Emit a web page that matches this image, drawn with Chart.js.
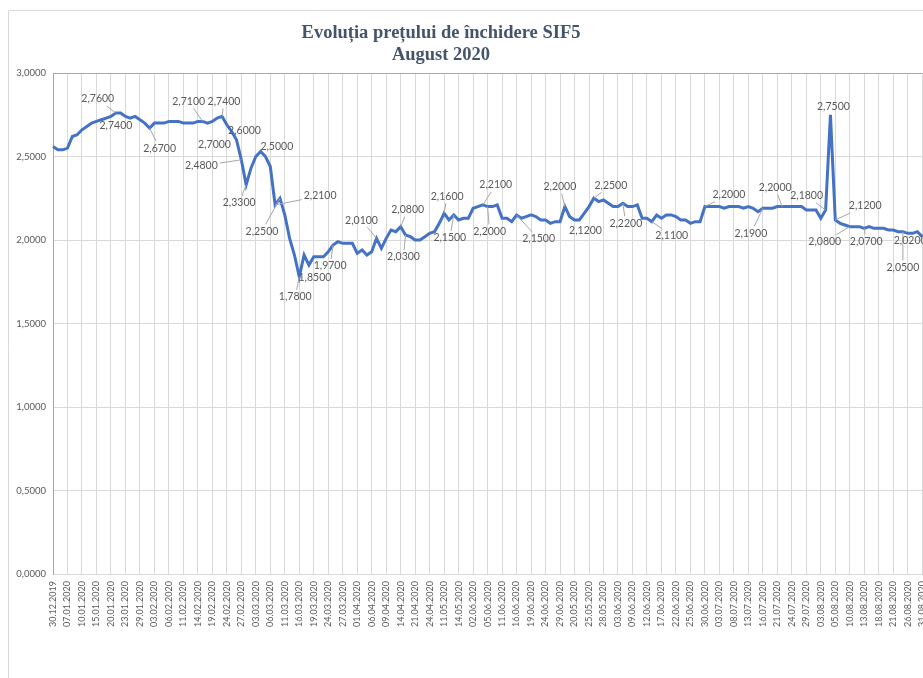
<!DOCTYPE html>
<html>
<head>
<meta charset="utf-8">
<title>Evoluția prețului de închidere SIF5</title>
<script src="https://cdn.jsdelivr.net/npm/chart.js@4.4.1/dist/chart.umd.min.js"></script>
<style>
    html, body { margin: 0; padding: 0; overflow: hidden; background: #fff; }
    #wrap { position: absolute; left: 0; top: 0; width: 940px; height: 678px; }
</style>
</head>
<body>
<div id="wrap"><canvas id="priceChart" width="940" height="678"></canvas></div>
<script>
// ===== SIF5 closing price, 30.12.2019 - 31.08.2020 =====

const titleLines = ['Evoluția prețului de închidere SIF5', 'August 2020'];

// dates printed on the axis (one every third trading day)
const tickDates = [
    '30.12.2019', '07.01.2020', '10.01.2020', '15.01.2020', '20.01.2020', '23.01.2020',
    '29.01.2020', '03.02.2020', '06.02.2020', '11.02.2020', '14.02.2020', '19.02.2020',
    '24.02.2020', '27.02.2020', '03.03.2020', '06.03.2020', '11.03.2020', '16.03.2020',
    '19.03.2020', '24.03.2020', '27.03.2020', '01.04.2020', '06.04.2020', '09.04.2020',
    '14.04.2020', '21.04.2020', '24.04.2020', '11.05.2020', '14.05.2020', '02.06.2020',
    '05.06.2020', '11.06.2020', '16.06.2020', '19.06.2020', '24.06.2020', '29.06.2020',
    '20.05.2020', '25.05.2020', '28.05.2020', '03.06.2020', '09.06.2020', '12.06.2020',
    '17.06.2020', '22.06.2020', '25.06.2020', '30.06.2020', '03.07.2020', '08.07.2020',
    '13.07.2020', '16.07.2020', '21.07.2020', '24.07.2020', '29.07.2020', '03.08.2020',
    '05.08.2020', '10.08.2020', '13.08.2020', '18.08.2020', '21.08.2020', '26.08.2020',
    '31.08.2020'
];
const daysPerTick = 3;

// closing prices (lei), one per trading day
const closePrices = [
    2.56, 2.54, 2.54, 2.55, 2.62, 2.63, 2.66, 2.68, 2.70, 2.71,
    2.72, 2.73, 2.74, 2.76, 2.76, 2.74, 2.73, 2.74, 2.72, 2.70,
    2.67, 2.70, 2.70, 2.70, 2.71, 2.71, 2.71, 2.70, 2.70, 2.70,
    2.71, 2.71, 2.70, 2.71, 2.73, 2.74, 2.69, 2.65, 2.60, 2.48,
    2.33, 2.43, 2.50, 2.53, 2.50, 2.44, 2.21, 2.25, 2.15, 2.01,
    1.91, 1.78, 1.91, 1.85, 1.90, 1.90, 1.90, 1.93, 1.97, 1.99,
    1.98, 1.98, 1.98, 1.92, 1.94, 1.91, 1.93, 2.01, 1.95, 2.01,
    2.06, 2.05, 2.08, 2.03, 2.02, 2.00, 2.00, 2.02, 2.04, 2.05,
    2.10, 2.16, 2.12, 2.15, 2.12, 2.13, 2.13, 2.19, 2.20, 2.21,
    2.20, 2.20, 2.21, 2.13, 2.13, 2.11, 2.15, 2.13, 2.14, 2.15,
    2.14, 2.12, 2.12, 2.10, 2.11, 2.11, 2.20, 2.14, 2.12, 2.12,
    2.16, 2.20, 2.25, 2.23, 2.24, 2.22, 2.20, 2.20, 2.22, 2.20,
    2.20, 2.21, 2.13, 2.13, 2.11, 2.15, 2.13, 2.15, 2.15, 2.14,
    2.12, 2.12, 2.10, 2.11, 2.11, 2.20, 2.20, 2.20, 2.20, 2.19,
    2.20, 2.20, 2.20, 2.19, 2.20, 2.19, 2.17, 2.19, 2.19, 2.19,
    2.20, 2.20, 2.20, 2.20, 2.20, 2.20, 2.18, 2.18, 2.18, 2.13,
    2.18, 2.75, 2.12, 2.10, 2.09, 2.08, 2.08, 2.08, 2.07, 2.08,
    2.07, 2.07, 2.07, 2.06, 2.06, 2.05, 2.05, 2.04, 2.04, 2.05,
    2.02
];

// points that carry a value label
const labelledPoints = [
    13, 12, 20, 31, 32, 35, 38, 39, 40, 42, 47, 46, 51, 53, 58, 67, 72, 73, 81,
    83, 89, 90, 96, 106, 108, 112, 118, 124, 135, 147, 151, 160, 161, 162, 165,
    168, 176, 180
];

// label placement: [dx, dy, leader line] relative to the point
const labelOffsets = [
    [-18, -14, 1], [5, 9, 0], [10, 20, 1], [-14, -20, 1], [7, 22, 0], [2, -15, 1],
    [8, -9, 0], [-40, 6, 1], [-7, 18, 1], [21, -10, 0], [-18, 33, 1], [45, -9, 1],
    [-4, 20, 1], [6, 13, 0], [-3, 21, 1], [-15, -18, 1], [7, -17, 1], [-2, 22, 1],
    [3, -17, 1], [-4, 23, 1], [13, -20, 1], [2, 25, 1], [22, 24, 1], [-5, -20, 1],
    [11, 11, 0], [17, -13, 1], [3, 20, 1], [20, 14, 1], [24, -12, 1], [-12, 25, 1],
    [-7, -19, 1], [-19, -14, 1], [3, -8, 0], [30, -14, 1], [-25, 15, 1], [2, 13, 1],
    [0, 36, 1], [-12, 4, 0]
];

const categoryLabels = closePrices.map((_, i) =>
    i % daysPerTick === 0 ? (tickDates[i / daysPerTick] || '') : '');

const fmt = v => v.toFixed(4).replace('.', ',');

const GRID = '#d9d9d9';
const AXIS_BLUE = '#8faadc';
const TEXT = '#595959';

// outer chart frame (only the top and left edges fall inside the window)
const framePlugin = {
    id: 'frame',
    beforeDraw(chart) {
        const ctx = chart.ctx;
        ctx.save();
        ctx.strokeStyle = GRID;
        ctx.lineWidth = 1;
        ctx.beginPath();
        ctx.moveTo(8.5, chart.height);
        ctx.lineTo(8.5, 10.5);
        ctx.lineTo(chart.width, 10.5);
        ctx.stroke();
        ctx.restore();
    }
};

const titlePlugin = {
    id: 'titleLines',
    afterDraw(chart) {
        const ctx = chart.ctx;
        ctx.save();
        ctx.font = 'bold 18.5px "Liberation Serif"';
        ctx.fillStyle = '#44546a';
        ctx.textAlign = 'center';
        ctx.textBaseline = 'middle';
        ctx.fillText(titleLines[0], 441, 33);
        ctx.fillText(titleLines[1], 441, 55);
        ctx.restore();
    }
};

const pointLabelPlugin = {
    id: 'pointLabels',
    afterDatasetsDraw(chart) {
        const ctx = chart.ctx;
        const meta = chart.getDatasetMeta(0);
        ctx.save();
        ctx.font = '10.5px Lato';
        ctx.textAlign = 'center';
        ctx.textBaseline = 'middle';
        ctx.strokeStyle = '#a6a6a6';
        ctx.lineWidth = 1;
        labelledPoints.forEach((idx, k) => {
            const [dx, dy, leader] = labelOffsets[k];
            const pt = meta.data[idx];
            const text = fmt(closePrices[idx]);
            const tx = pt.x + dx, ty = pt.y + dy;
            if (leader) {
                const hw = ctx.measureText(text).width / 2 + 2, hh = 7;
                const ex = pt.x - tx, ey = pt.y - ty;
                const s = Math.min(hw / Math.max(Math.abs(ex), 1e-6), hh / Math.max(Math.abs(ey), 1e-6));
                if (s < 1) {
                    ctx.beginPath();
                    ctx.moveTo(tx + ex * s, ty + ey * s);
                    ctx.lineTo(pt.x, pt.y);
                    ctx.stroke();
                }
            }
            ctx.fillStyle = TEXT;
            ctx.fillText(text, tx, ty);
        });
        ctx.restore();
    }
};

new Chart(document.getElementById('priceChart'), {
    type: 'line',
    data: {
        labels: categoryLabels,
        datasets: [{
            data: closePrices,
            borderColor: '#4472c4',
            borderWidth: 3,
            pointRadius: 0,
            tension: 0,
            fill: false
        }]
    },
    options: {
        responsive: false,
        animation: false,
        layout: { padding: { top: 73, right: 16, bottom: 0, left: 0 } },
        plugins: {
            legend: { display: false },
            title: { display: false },
            tooltip: { enabled: false }
        },
        scales: {
            x: {
                type: 'category',
                offset: false,
                afterFit: scale => { scale.height = 104; },
                border: { color: GRID },
                grid: {
                    drawTicks: false,
                    color: c => (c.index % daysPerTick === 0 ? GRID : 'rgba(0,0,0,0)')
                },
                ticks: {
                    autoSkip: false,
                    minRotation: 90,
                    maxRotation: 90,
                    padding: 7,
                    color: TEXT,
                    font: { family: 'Lato', size: 9 },
                    callback: (val, i) => categoryLabels[i]
                }
            },
            y: {
                min: 0,
                max: 3,
                afterFit: scale => { scale.width = 53; },
                border: { color: AXIS_BLUE },
                grid: {
                    drawTicks: false,
                    color: c => (c.tick && c.tick.value === 3 ? AXIS_BLUE : GRID)
                },
                ticks: {
                    stepSize: 0.5,
                    padding: 7,
                    color: TEXT,
                    font: { family: 'Lato', size: 9.5 },
                    callback: v => fmt(v)
                }
            }
        }
    },
    plugins: [framePlugin, titlePlugin, pointLabelPlugin]
});
</script>
</body>
</html>
